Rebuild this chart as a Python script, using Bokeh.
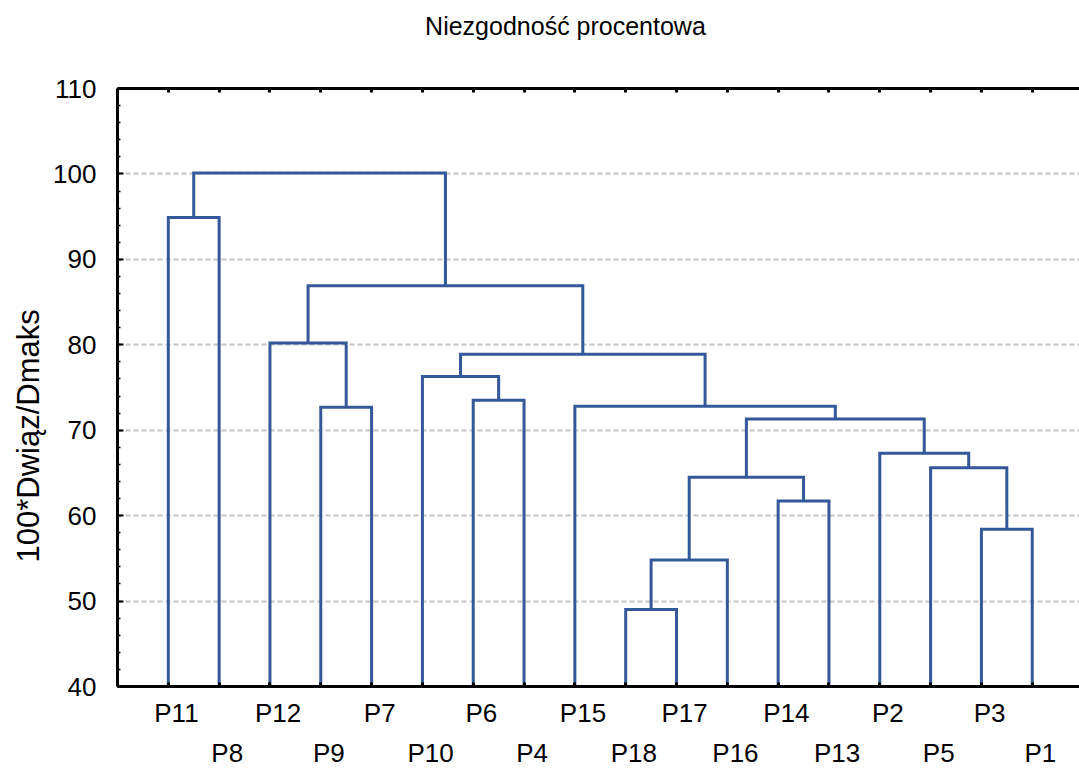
from bokeh.plotting import figure
from bokeh.models import (Range1d, LinearAxis, FixedTicker, SingleIntervalTicker, Title)
from bokeh.embed import file_html
from bokeh.resources import INLINE

# ---------------- data ----------------
leaves = ["P11", "P8", "P12", "P9", "P7", "P10", "P6", "P4", "P15",
          "P18", "P17", "P16", "P14", "P13", "P2", "P5", "P3", "P1"]

# agglomeration steps: cluster C{k} = merge_a[k-1] + merge_b[k-1] at merge_h[k-1]
merge_a = ["P18", "C1", "P3", "P14", "C2", "P5", "P2", "C5", "P9",
           "P15", "P6", "P10", "C12", "P12", "C14", "P11", "C16"]
merge_b = ["P17", "P16", "P1", "P13", "C4", "C3", "C6", "C7", "P7",
           "C8", "P4", "C11", "C10", "C9", "C13", "P8", "C15"]
merge_h = [49.0, 54.8, 58.4, 61.7, 64.5, 65.6, 67.3, 71.3, 72.7,
           72.8, 73.5, 76.3, 78.9, 80.2, 86.9, 94.9, 100.1]

y_min, y_max = 40, 110
title_text = "Niezgodność procentowa"
y_title = "100*Dwiąz/Dmaks"

# ---------------- build link geometry ----------------
pos = {name: i + 1 for i, name in enumerate(leaves)}
hgt = {name: float(y_min) for name in leaves}
xs, ys = [], []
for k, (a, b, h) in enumerate(zip(merge_a, merge_b, merge_h)):
    xa, xb = pos[a], pos[b]
    xs.append([xa, xa, xb, xb])
    ys.append([hgt[a], h, h, hgt[b]])
    cname = "C%d" % (k + 1)
    pos[cname] = (xa + xb) / 2.0
    hgt[cname] = h

BLUE = "#34589a"
FONT = "Liberation Sans"
LBL_SIZE = "26px"
LBL_SHIFT = 0.16   # labels sit slightly right of their leaf (as in the original)
TITLE_X = 8.815    # title centre, in leaf units (the original title is left of centre)

p = figure(width=1079, height=770, output_backend="svg", toolbar_location=None,
           x_range=Range1d(0, 18.93), y_range=Range1d(y_min, y_max),
           min_border_left=117, min_border_right=0, min_border_top=88,
           min_border_bottom=84)
p.outline_line_color = None
p.background_fill_color = "white"
p.border_fill_color = "white"

p.multi_line(xs=xs, ys=ys, line_color=BLUE, line_width=3, line_join="miter")

# y axis
ya = p.yaxis[0]
ya.ticker = SingleIntervalTicker(interval=10, num_minor_ticks=5)
ya.axis_line_width = 3
ya.axis_line_color = "black"
ya.major_tick_in = 6
ya.major_tick_out = 0
ya.major_tick_line_width = 2
ya.minor_tick_in = 3
ya.minor_tick_out = 0
ya.minor_tick_line_width = 1.5
ya.major_label_text_font = FONT
ya.major_label_text_font_size = LBL_SIZE
ya.major_label_text_color = "black"
ya.major_label_standoff = 21

# y title on the left side (rotated, shifted down like the original)
p.add_layout(Title(text=y_title, align="left", offset=124, standoff=10,
                   text_font=FONT, text_font_size="31px", text_font_style="normal",
                   text_color="black"), "left")

leaf_ticks = list(range(1, len(leaves) + 1))
upper = [i for i in range(len(leaves)) if i % 2 == 0]
lower = [i for i in range(len(leaves)) if i % 2 == 1]

# bottom axis: line + inward leaf ticks + upper row of labels
xa_ = p.xaxis[0]
xa_.ticker = FixedTicker(ticks=[leaf_ticks[i] + LBL_SHIFT for i in upper],
                         minor_ticks=leaf_ticks)
xa_.major_label_overrides = {leaf_ticks[i] + LBL_SHIFT: leaves[i] for i in upper}
xa_.axis_line_width = 3
xa_.axis_line_color = "black"
xa_.major_tick_line_color = None
xa_.major_tick_in = 0
xa_.major_tick_out = 0
xa_.minor_tick_in = 4
xa_.minor_tick_out = 0
xa_.minor_tick_line_width = 3
xa_.major_label_standoff = 11
xa_.major_label_text_font = FONT
xa_.major_label_text_font_size = LBL_SIZE
xa_.major_label_text_color = "black"

# second label row
xb_ = LinearAxis(ticker=FixedTicker(ticks=[leaf_ticks[i] + LBL_SHIFT for i in lower]))
xb_.major_label_overrides = {leaf_ticks[i] + LBL_SHIFT: leaves[i] for i in lower}
xb_.axis_line_color = None
xb_.major_tick_line_color = None
xb_.minor_tick_line_color = None
xb_.major_tick_in = 0
xb_.major_tick_out = 0
xb_.major_label_standoff = 7
xb_.major_label_text_font = FONT
xb_.major_label_text_font_size = LBL_SIZE
xb_.major_label_text_color = "black"
p.add_layout(xb_, "below")

# top axis: frame line + inward dots at leaves; carries the chart title as its one label
top = LinearAxis(ticker=FixedTicker(ticks=[TITLE_X], minor_ticks=leaf_ticks))
top.major_label_overrides = {TITLE_X: title_text}
top.axis_line_width = 3
top.axis_line_color = "black"
top.major_tick_line_color = None
top.major_tick_in = 0
top.major_tick_out = 0
top.minor_tick_in = 4
top.minor_tick_out = 0
top.minor_tick_line_width = 3
top.major_label_standoff = 49
top.major_label_text_font = FONT
top.major_label_text_font_size = "25px"
top.major_label_text_color = "black"
p.add_layout(top, "above")

p.xgrid.visible = False
p.ygrid.grid_line_color = "#c4c4c4"
p.ygrid.grid_line_dash = "5 3"
p.ygrid.grid_line_width = 2

open("out.html", "w").write(file_html(p, INLINE))
